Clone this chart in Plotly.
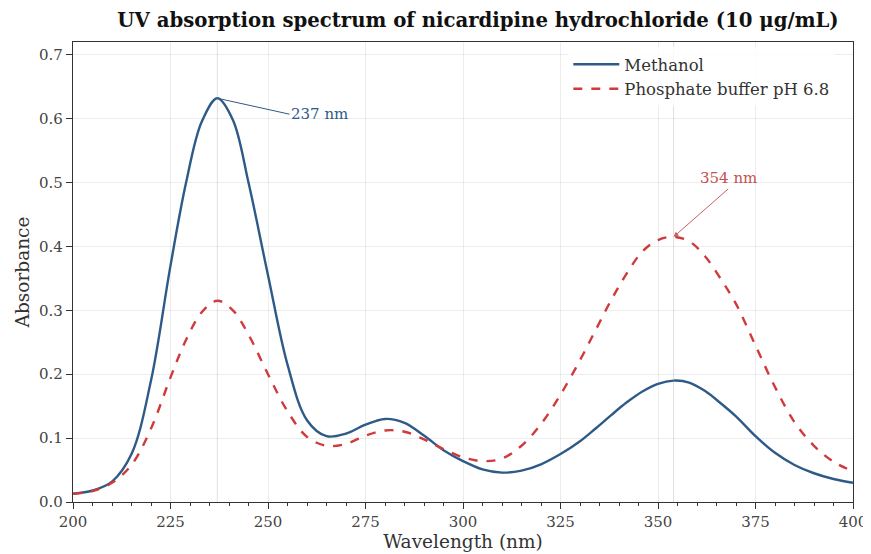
import plotly.graph_objects as go

wavelength = [200, 205, 210, 215, 220, 225, 229, 233, 237, 241, 245, 250, 255, 260, 265, 270,
              275, 280, 285, 290, 295, 300, 305, 310, 315, 320, 325, 330, 334, 338, 342, 346,
              350, 354, 358, 362, 366, 370, 375, 380, 385, 390, 395, 400]
methanol = [0.013, 0.018, 0.032, 0.075, 0.19, 0.37, 0.50, 0.595, 0.632, 0.598, 0.50, 0.355,
            0.215, 0.128, 0.103, 0.107, 0.121, 0.130, 0.124, 0.104, 0.081, 0.064, 0.051, 0.046,
            0.049, 0.059, 0.075, 0.095, 0.115, 0.136, 0.156, 0.173, 0.185, 0.190, 0.187, 0.174,
            0.155, 0.134, 0.103, 0.077, 0.058, 0.045, 0.036, 0.030]
buffer = [0.013, 0.017, 0.03, 0.058, 0.115, 0.195, 0.254, 0.297, 0.315, 0.300, 0.262, 0.20,
          0.142, 0.102, 0.088, 0.091, 0.104, 0.112, 0.110, 0.098, 0.083, 0.070, 0.064, 0.068,
          0.088, 0.122, 0.168, 0.222, 0.269, 0.316, 0.358, 0.392, 0.410, 0.415, 0.408, 0.385,
          0.350, 0.310, 0.245, 0.180, 0.125, 0.088, 0.063, 0.048]
peak_nm = [237, 354]
peak_abs = [0.632, 0.415]
peak_labels = ["237 nm", "354 nm"]

blue = "#2e5a87"
red = "#d03a3a"
font = "DejaVu Serif"

fig = go.Figure()
fig.add_trace(go.Scatter(x=wavelength, y=methanol, mode="lines", name="Methanol",
                         line=dict(color=blue, width=2.4, shape="spline", smoothing=1.0)))
fig.add_trace(go.Scatter(x=wavelength, y=buffer, mode="lines", name="Phosphate buffer pH 6.8",
                         line=dict(color=red, width=2.4, dash="dash", shape="spline", smoothing=1.0)))

for p in peak_nm:
    fig.add_vline(x=p, line=dict(color="rgba(150,150,150,0.3)", width=1))

fig.add_annotation(x=peak_nm[0], y=peak_abs[0], text=peak_labels[0], ax=255.5, ay=0.607,
                   axref="x", ayref="y", xanchor="left", showarrow=True, arrowhead=0,
                   arrowwidth=1, arrowcolor=blue, standoff=0,
                   font=dict(family=font, size=15, color=blue))
fig.add_annotation(x=peak_nm[1], y=peak_abs[1], text=peak_labels[1], ax=368, ay=0.49,
                   axref="x", ayref="y", showarrow=True, arrowhead=2, arrowsize=1,
                   arrowwidth=1, arrowcolor="#c76060", standoff=0,
                   font=dict(family=font, size=15, color="#c55050"), yanchor="bottom")

axis_common = dict(showline=True, linecolor="#333333", linewidth=1.2, mirror=True,
                   ticks="outside", ticklen=6, tickwidth=1, tickcolor="#333333",
                   showgrid=True, gridcolor="rgba(0,0,0,0.07)", gridwidth=1, zeroline=False,
                   automargin=False,
                   tickfont=dict(family=font, size=15, color="#444444"))

fig.update_xaxes(range=[200, 400], dtick=25, tick0=200,
                 title=dict(text="Wavelength (nm)", font=dict(family=font, size=18.5, color="#333333"), standoff=1),
                 minor=dict(dtick=5, ticks="outside", ticklen=3, tickcolor="#333333", showgrid=False),
                 **axis_common)
fig.update_yaxes(range=[0, 0.72], dtick=0.1, tick0=0, tickformat=".1f",
                 title=dict(text="Absorbance", font=dict(family=font, size=18.5, color="#333333"), standoff=4),
                 **axis_common)

fig.update_layout(
    width=871, height=554,
    margin=dict(l=65, r=26, t=34, b=60, autoexpand=False),
    paper_bgcolor="white", plot_bgcolor="white",
    title=dict(text="<b>UV absorption spectrum of nicardipine hydrochloride (10 μg/mL)</b>",
               xref="container", x=0.5396, xanchor="center",
               yref="container", y=0.978, yanchor="middle",
               font=dict(family=font, size=19.7, color="#111111")),
    legend=dict(x=0.635, y=0.989, xanchor="left", yanchor="top", bgcolor="rgba(255,255,255,0.8)",
                itemwidth=46,
                font=dict(family=font, size=16.5, color="#333333"), tracegroupgap=2),
    font=dict(family=font),
)

fig.write_html("out.html")
